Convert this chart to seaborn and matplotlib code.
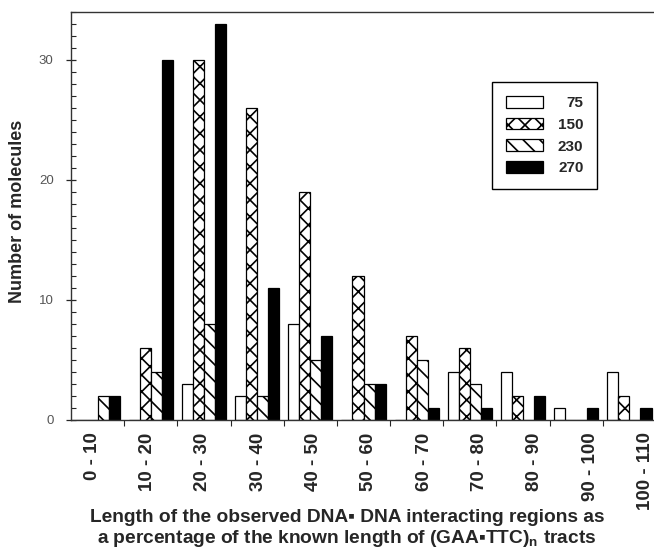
import numpy as np
import pandas as pd
import matplotlib
matplotlib.use('Agg')
import matplotlib.pyplot as plt
import matplotlib.ticker as ticker
import seaborn as sns

# bins (percent of known tract length)
bins = ['0 - 10', '10 - 20', '20 - 30', '30 - 40', '40 - 50', '50 - 60',
        '60 - 70', '70 - 80', '80 - 90', '90 - 100', '100 - 110']

# number of molecules per tract size
n75 = [0, 0, 3, 2, 8, 0, 0, 4, 4, 1, 4]
n150 = [0, 6, 30, 26, 19, 12, 7, 6, 2, 0, 2]
n230 = [2, 4, 8, 2, 5, 3, 5, 3, 0, 0, 0]
n270 = [2, 30, 33, 11, 7, 3, 1, 1, 2, 1, 1]

sizes = ['75', '150', '230', '270']
fills = ['white', 'white', 'white', 'black']
hatches = ['', 'xx', '\\\\', '']

df = pd.DataFrame({
    'bin': bins * 4,
    'size': [s for s in sizes for _ in bins],
    'count': n75 + n150 + n230 + n270,
})

sns.set_style('ticks')
plt.rcParams['font.family'] = ['Liberation Sans', 'DejaVu Sans']
plt.rcParams['mathtext.fontset'] = 'custom'
plt.rcParams['mathtext.bf'] = 'Liberation Sans:bold'
plt.rcParams['mathtext.rm'] = 'Liberation Sans'
plt.rcParams['mathtext.fallback'] = 'stixsans'
plt.rcParams['hatch.linewidth'] = 1.2

fig = plt.figure(figsize=(6.54, 5.57), dpi=100)
ax = fig.add_axes([0.1086, 0.246, 0.8945, 0.7325])

sns.barplot(data=df, x='bin', y='count', hue='size', palette=fills,
            width=0.83, edgecolor='black', linewidth=0.9, ax=ax)

for cont, h in zip(ax.containers, hatches):
    for bar in cont:
        bar.set_hatch(h)

ax.set_xlim(-0.5, len(bins) - 0.5)
ax.set_ylim(0, 34)

# y ticks
ax.yaxis.set_major_locator(ticker.MultipleLocator(10))
ax.yaxis.set_minor_locator(ticker.MultipleLocator(1))
ax.tick_params(axis='y', which='major', direction='inout', length=7, width=0.9,
               labelsize=9.5, labelcolor='#555555', pad=9)
ax.tick_params(axis='y', which='minor', direction='in', length=3.5, width=0.8)

# x ticks: marks on the bin boundaries, labels roughly under each group
ax.set_xticks([i * 1.04 - 0.1 for i in range(len(bins))])
ax.set_xticklabels(bins, rotation=90, fontweight='bold', fontsize=13.5)
ax.xaxis.set_minor_locator(ticker.FixedLocator(np.arange(0.5, len(bins) - 0.5, 1)))
ax.tick_params(axis='x', which='major', length=0, pad=9)
ax.tick_params(axis='x', which='minor', direction='out', length=4, width=0.8)

for s in ['left', 'bottom', 'top']:
    ax.spines[s].set_linewidth(1.0)
    ax.spines[s].set_color('#333333')
ax.spines['right'].set_visible(False)

ax.set_ylabel('Number of molecules', fontweight='bold', fontsize=13)
ax.yaxis.set_label_coords(-0.077, 0.512)
ax.set_xlabel('Length of the observed DNA\u25aa DNA interacting regions as\n'
              'a percentage of the known length of (GAA\u25aaTTC)$_\\mathbf{n}$ tracts',
              fontweight='bold', fontsize=13.8, linespacing=1.15)
ax.xaxis.set_label_coords(0.472, -0.218)

leg = ax.legend(title=None, loc='upper left', bbox_to_anchor=(0.72, 0.828),
                frameon=True, fancybox=False, edgecolor='black', framealpha=1,
                prop={'weight': 'bold', 'size': 11}, handlelength=2.4,
                handleheight=0.8, handletextpad=1.0, labelspacing=0.5,
                borderpad=0.9, borderaxespad=0)
leg.get_frame().set_linewidth(1.0)
for handle, h in zip(leg.legend_handles, hatches):
    handle.set_hatch(h)

# right-align the legend labels
fig.canvas.draw()
widths = [t.get_window_extent().width for t in leg.get_texts()]
for t, w in zip(leg.get_texts(), widths):
    t.set_position((max(widths) - w, 0))

fig.savefig('out.png', dpi=100)
